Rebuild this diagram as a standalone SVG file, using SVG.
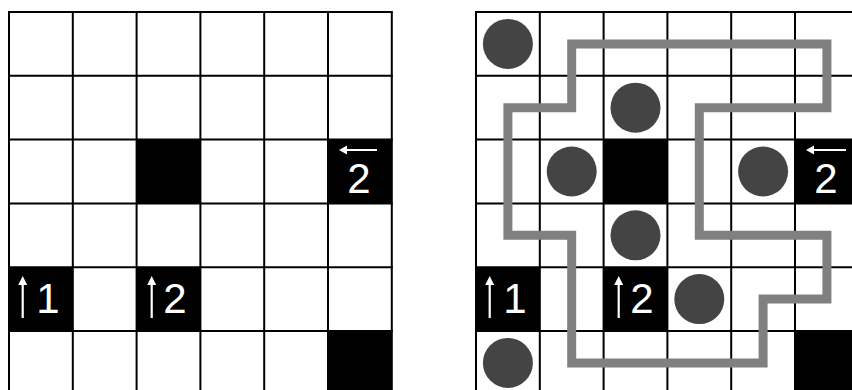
<svg xmlns="http://www.w3.org/2000/svg" width="852" height="390" viewBox="0 0 852 390">
<style>
.grid{stroke:#000;stroke-width:2;fill:none}
.blk{fill:#000}
.num{fill:#fff;font-family:"Liberation Sans",Arial,sans-serif;font-size:42px;text-anchor:middle}
.arr{stroke:#fff;stroke-width:2.2;fill:none}
.ah{fill:#fff}
.dot{fill:#444}
.loop{stroke:#808080;stroke-width:9;fill:none;stroke-linejoin:miter}
</style>
<rect width="852" height="390" fill="#fff"/>
<g id="left-grid">
<g id="left-lines" class="grid">
<path d="M9,12V396M72.8,12V396M136.6,12V396M200.4,12V396M264.2,12V396M328,12V396M391.8,12V396"/>
<path d="M8,12H392.8M8,75.8H392.8M8,139.6H392.8M8,203.4H392.8M8,267.2H392.8M8,331H392.8"/>
</g>
<rect class="blk" x="136.6" y="139.6" width="63.8" height="63.8"/>
<g id="left-c52">
<rect class="blk" x="328" y="139.6" width="63.8" height="63.8"/>
<path class="arr" d="M344,150H377"/><path class="ah" d="M339,150L347,145.5V154.5Z"/>
<text class="num" x="359" y="193">2</text>
</g>
<g id="left-c04">
<rect class="blk" x="9" y="267.2" width="63.8" height="63.8"/>
<path class="arr" d="M22.7,282V318"/><path class="ah" d="M22.7,276L18.2,285H27.2Z"/>
<text class="num" x="48" y="313">1</text>
</g>
<g id="left-c24">
<rect class="blk" x="136.6" y="267.2" width="63.8" height="63.8"/>
<path class="arr" d="M151.7,282V318"/><path class="ah" d="M151.7,276L147.2,285H156.2Z"/>
<text class="num" x="175" y="313">2</text>
</g>
<rect class="blk" x="328" y="331" width="63.8" height="63.8"/>
</g>
<g id="right-grid">
<g id="right-lines" class="grid">
<path d="M476,12V396M539.8,12V396M603.6,12V396M667.4,12V396M731.2,12V396M795,12V396"/>
<path d="M475,12H860M475,75.8H860M475,139.6H860M475,203.4H860M475,267.2H860M475,331H860"/>
</g>
<rect class="blk" x="603.6" y="139.6" width="63.8" height="63.8"/>
<g id="right-c52">
<rect class="blk" x="795" y="139.6" width="63.8" height="63.8"/>
<path class="arr" d="M811,150H846"/><path class="ah" d="M806,150L814,145.5V154.5Z"/>
<text class="num" x="826" y="193">2</text>
</g>
<g id="right-c04">
<rect class="blk" x="476" y="267.2" width="63.8" height="63.8"/>
<path class="arr" d="M489.7,282V318"/><path class="ah" d="M489.7,276L485.2,285H494.2Z"/>
<text class="num" x="515" y="313">1</text>
</g>
<g id="right-c24">
<rect class="blk" x="603.6" y="267.2" width="63.8" height="63.8"/>
<path class="arr" d="M618.7,282V318"/><path class="ah" d="M618.7,276L614.2,285H623.2Z"/>
<text class="num" x="642" y="313">2</text>
</g>
<rect class="blk" x="795" y="331" width="63.8" height="63.8"/>
<g id="dots">
<circle class="dot" cx="507.9" cy="43.9" r="25"/>
<circle class="dot" cx="635.5" cy="107.7" r="25"/>
<circle class="dot" cx="571.7" cy="171.5" r="25"/>
<circle class="dot" cx="763.1" cy="171.5" r="25"/>
<circle class="dot" cx="635.5" cy="235.3" r="25"/>
<circle class="dot" cx="699.3" cy="299.1" r="25"/>
<circle class="dot" cx="507.9" cy="362.9" r="25"/>
</g>
<g id="connectors">
<path class="loop" d="M571.7,43.9H826.9V107.7H699.3V235.3H826.9V299.1H763.1V362.9H571.7V235.3H507.9V107.7H571.7Z"/>
</g>
</g>
</svg>
